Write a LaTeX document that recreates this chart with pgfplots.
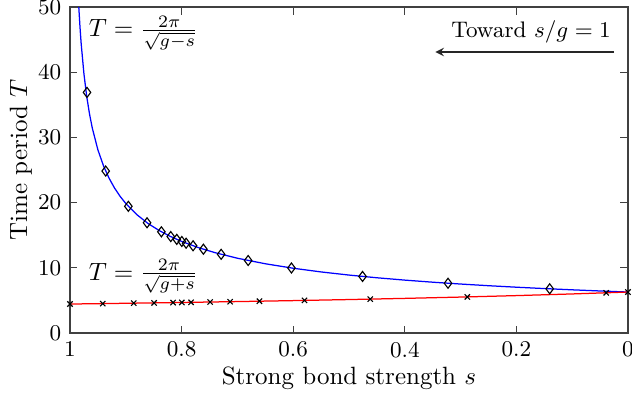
\documentclass[border=0pt]{standalone}
\usepackage{pgfplots}
\pgfplotsset{compat=1.18}
\begin{document}
\begin{tikzpicture}
\begin{axis}[
 name=ax,at={(0,0)},anchor=south west,
 scale only axis,width=223.2pt,height=130.4pt,
 x dir=reverse,xmin=0,xmax=1,ymin=0,ymax=50,
 xtick={0,0.2,0.4,0.6,0.8,1},xticklabels={0,0.2,0.4,0.6,0.8,1},
 ytick={0,10,20,30,40,50},
 tick align=inside,major tick length=3pt,
 axis line style={black!75,line width=0.5pt},
 tick style={black!75,line width=0.4pt},
 tick label style={font=\small},
 xlabel={Strong bond strength $s$},ylabel={Time period $T$},
 label style={font=\normalsize},
 xlabel style={yshift=3pt},ylabel style={yshift=-4.4pt,xshift=4pt},
 clip=true,
]
% upper branch T = 2pi/sqrt(1-s)
\addplot[blue,line width=0.5pt] coordinates {
 (0.9842,50.0) (0.984,49.67) (0.982,46.83) (0.98,44.43) (0.975,39.74) (0.97,36.28)
 (0.965,33.59) (0.96,31.42) (0.95,28.10) (0.94,25.65) (0.93,23.75) (0.92,22.21)
 (0.91,20.94) (0.90,19.87) (0.88,18.14) (0.86,16.79) (0.84,15.71) (0.82,14.81)
 (0.80,14.05) (0.77,13.10) (0.74,12.32) (0.70,11.47) (0.65,10.62) (0.60,9.934)
 (0.55,9.366) (0.50,8.886) (0.45,8.472) (0.40,8.112) (0.35,7.793) (0.30,7.510)
 (0.25,7.255) (0.20,7.025) (0.15,6.815) (0.10,6.623) (0.05,6.446) (0.00,6.283)
};
% lower branch T = 2pi/sqrt(1+s)
\addplot[red,line width=0.5pt] coordinates {
 (1.0,4.443) (0.9,4.558) (0.8,4.683) (0.7,4.819) (0.6,4.967) (0.5,5.130)
 (0.4,5.310) (0.3,5.511) (0.2,5.736) (0.1,5.991) (0.0,6.283)
};
\addplot[black,only marks,mark=diamond,mark size=2pt,mark options={line width=0.45pt}] coordinates {
 (0.9695,36.9) (0.936,24.84) (0.8954,19.43) (0.8619,16.91) (0.8362,15.52)
 (0.8194,14.79) (0.8086,14.36) (0.7996,14.04) (0.7919,13.77) (0.7794,13.38)
 (0.7609,12.85) (0.7291,12.07) (0.6807,11.12) (0.6031,9.973) (0.4757,8.677)
 (0.3225,7.634) (0.1403,6.777)
};
\addplot[black,only marks,mark=x,mark size=1.5pt,mark options={line width=0.45pt}] coordinates {
 (1.0,4.443) (0.9413,4.510) (0.8857,4.576) (0.8493,4.620) (0.8152,4.664)
 (0.7996,4.684) (0.7830,4.706) (0.7489,4.751) (0.7130,4.801) (0.6604,4.876)
 (0.5797,4.999) (0.4619,5.197) (0.2879,5.537) (0.0391,6.164) (0.0,6.283)
};
\node[anchor=west,inner sep=0pt] at (axis cs:0.967,46) {$T=\frac{2\pi}{\sqrt{g-s}}$};
\node[anchor=west,inner sep=0pt] at (axis cs:0.967,8.7) {$T=\frac{2\pi}{\sqrt{g+s}}$};
\node[anchor=east,inner sep=0pt,font=\small] at (axis cs:0.03,46.2) {Toward $s/g=1$};
\draw[-stealth,black!85,line width=0.5pt] (axis cs:0.025,43.1) -- (axis cs:0.345,43.1);
\end{axis}
\pgfresetboundingbox
\path[use as bounding box] (-28pt,-28pt) rectangle (224.8pt,133.2pt);
\end{tikzpicture}
\end{document}
